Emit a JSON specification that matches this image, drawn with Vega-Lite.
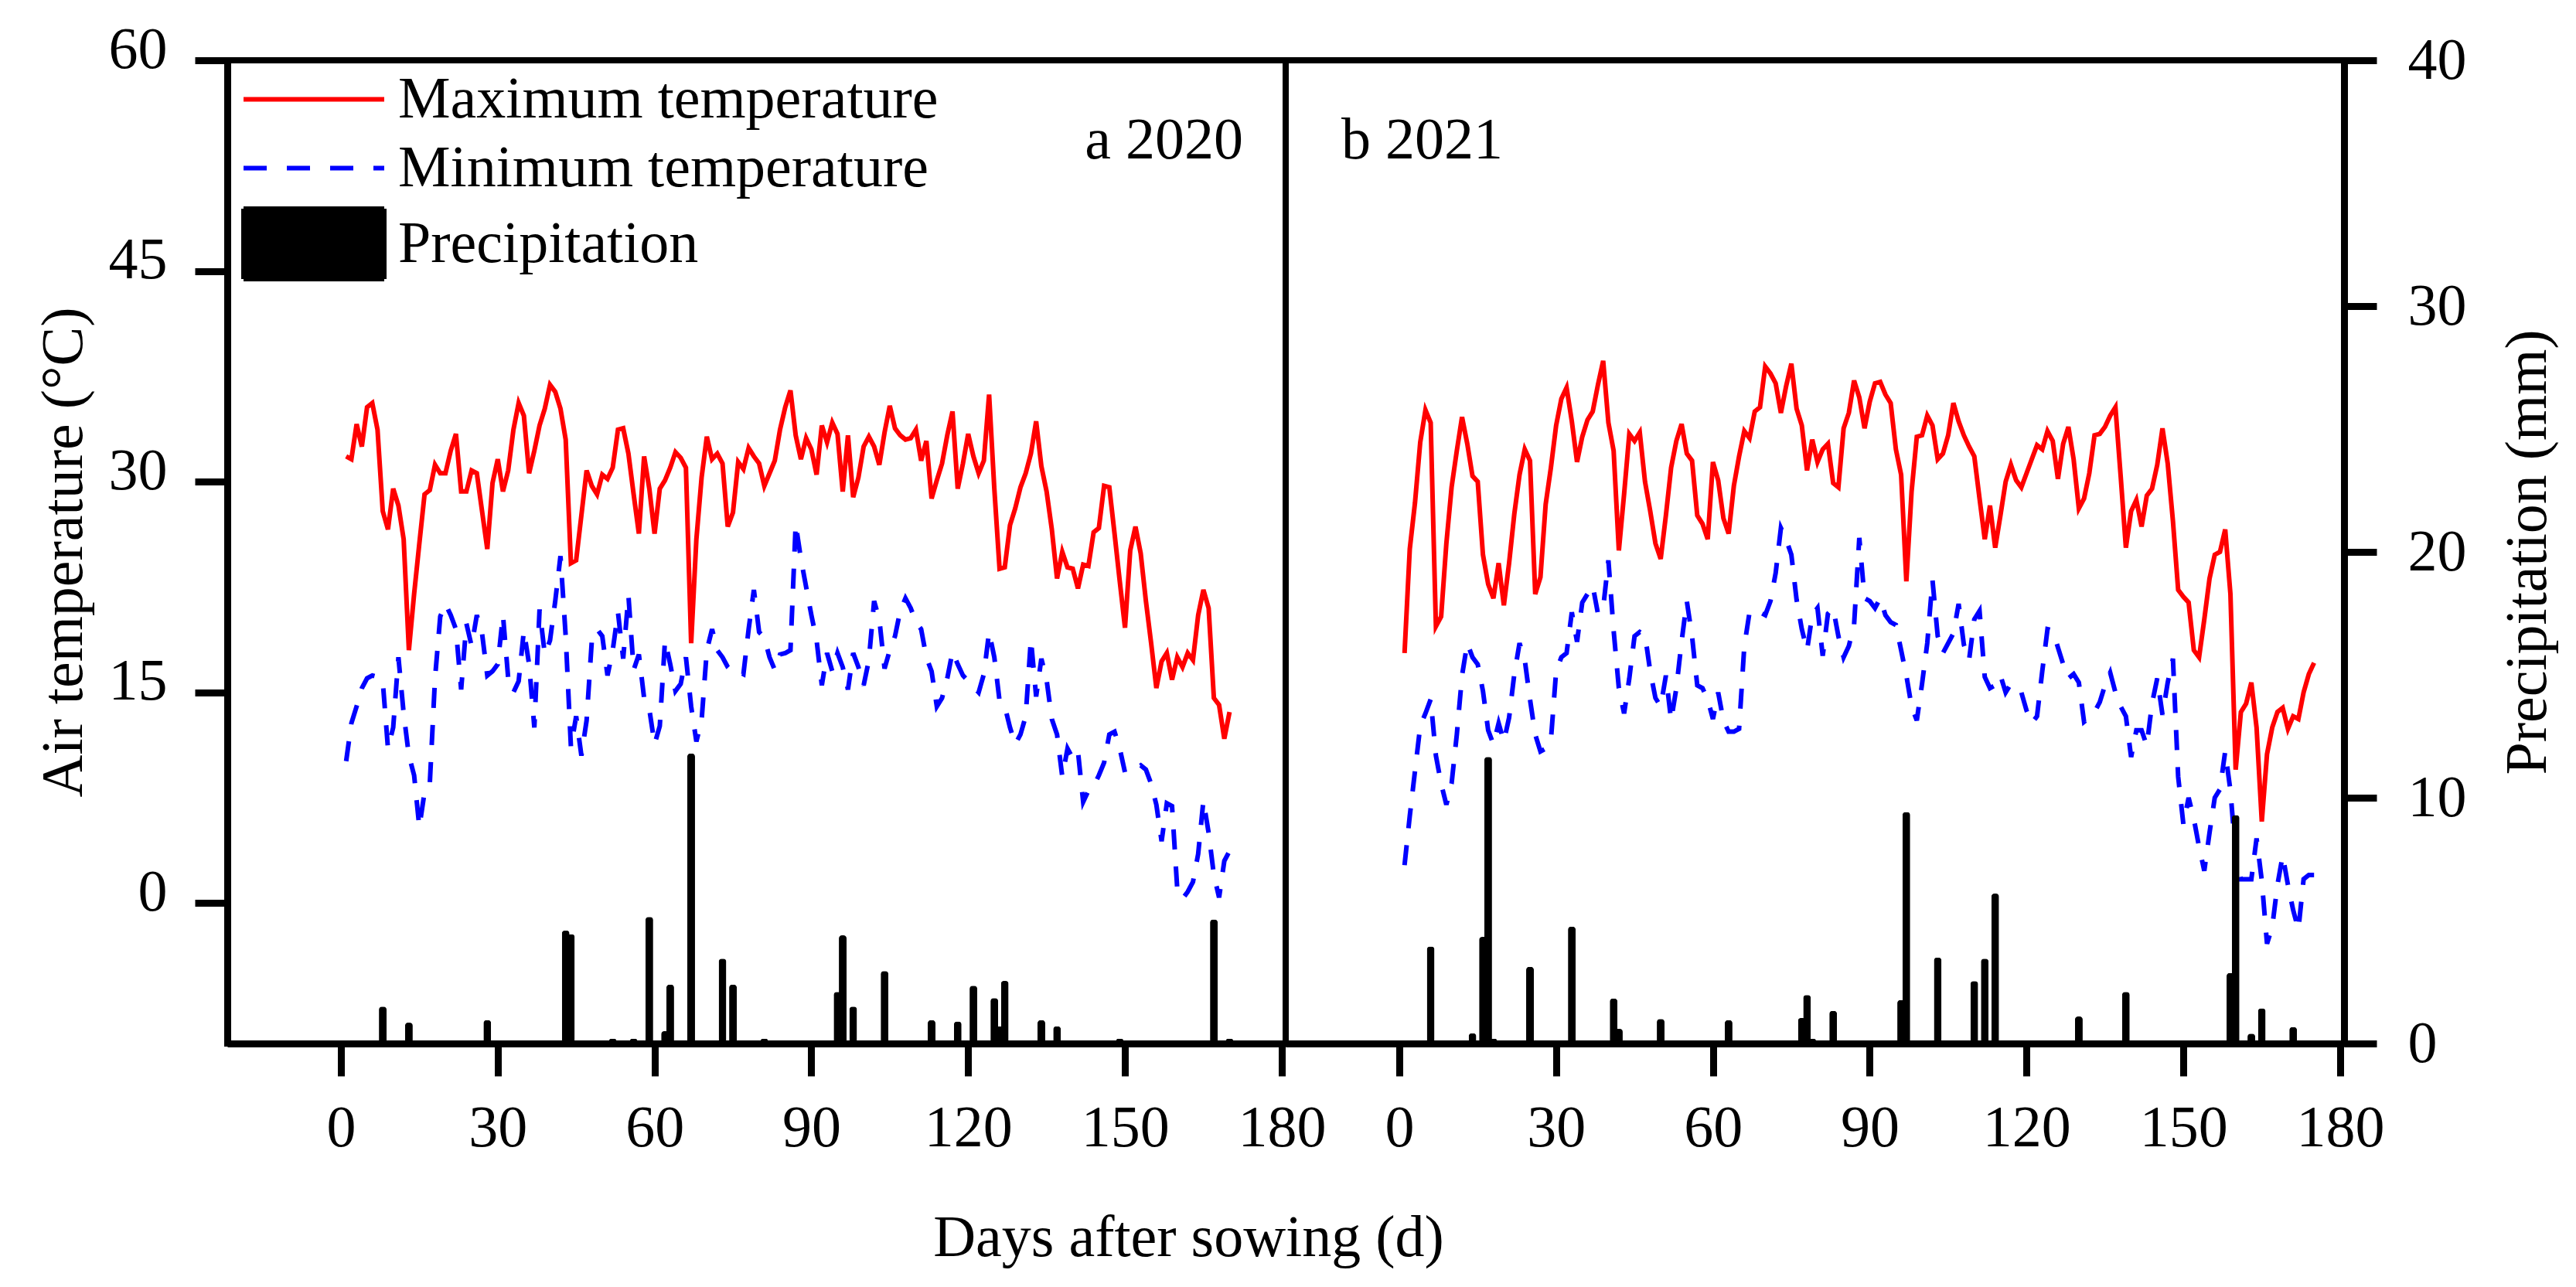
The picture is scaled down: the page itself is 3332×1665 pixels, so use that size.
{
  "$schema": "https://vega.github.io/schema/vega-lite/v6.json",
  "background": "white",
  "padding": {"left": 40, "top": 22, "right": 10, "bottom": 0},
  "spacing": 0,
  "bounds": "flush",
  "config": {
    "font": "Liberation Serif",
    "view": {"stroke": "black", "strokeWidth": 8},
    "axis": {
      "domainColor": "black", "domainWidth": 9, "tickColor": "black", "tickWidth": 9, "tickSize": 42,
      "labelFont": "Liberation Serif", "labelFontSize": 76, "labelColor": "black",
      "titleFont": "Liberation Serif", "titleFontSize": 76, "titleFontWeight": "normal", "titleColor": "black",
      "grid": false, "labelFlush": false, "labelOverlap": false
    },
    "text": {"font": "Liberation Serif", "fontSize": 76, "color": "black"}
  },
  "datasets": {
    "t2020": [
      {"day":1,"tmax":31.8,"tmin":10.1},{"day":2,"tmax":31.6,"tmin":12.8},{"day":3,"tmax":34.1,"tmin":14.0},{"day":4,"tmax":32.5,"tmin":15.3},{"day":5,"tmax":35.3,"tmin":16.0},
      {"day":6,"tmax":35.6,"tmin":16.2},{"day":7,"tmax":33.7,"tmin":16.1},{"day":8,"tmax":27.9,"tmin":15.8},{"day":9,"tmax":26.6,"tmin":11.0},{"day":10,"tmax":29.5,"tmin":12.5},
      {"day":11,"tmax":28.3,"tmin":17.5},{"day":12,"tmax":25.9,"tmin":13.5},{"day":13,"tmax":18.0,"tmin":10.5},{"day":14,"tmax":22.0,"tmin":9.1},{"day":15,"tmax":25.6,"tmin":5.4},
      {"day":16,"tmax":29.1,"tmin":7.9},{"day":17,"tmax":29.4,"tmin":8.5},{"day":18,"tmax":31.2,"tmin":16.0},{"day":19,"tmax":30.6,"tmin":20.4},{"day":20,"tmax":30.6,"tmin":21.3},
      {"day":21,"tmax":32.2,"tmin":20.5},{"day":22,"tmax":33.4,"tmin":19.5},{"day":23,"tmax":29.3,"tmin":15.2},{"day":24,"tmax":29.3,"tmin":19.9},{"day":25,"tmax":30.8,"tmin":18.3},
      {"day":26,"tmax":30.6,"tmin":20.5},{"day":27,"tmax":27.9,"tmin":19.2},{"day":28,"tmax":25.2,"tmin":16.2},{"day":29,"tmax":29.9,"tmin":16.5},{"day":30,"tmax":31.6,"tmin":17.0},
      {"day":31,"tmax":29.3,"tmin":20.5},{"day":32,"tmax":30.8,"tmin":16.0},{"day":33,"tmax":33.7,"tmin":15.0},{"day":34,"tmax":35.6,"tmin":15.8},{"day":35,"tmax":34.7,"tmin":19.4},
      {"day":36,"tmax":30.6,"tmin":17.0},{"day":37,"tmax":32.2,"tmin":12.5},{"day":38,"tmax":34.0,"tmin":20.9},{"day":39,"tmax":35.2,"tmin":17.7},{"day":40,"tmax":36.9,"tmin":18.7},
      {"day":41,"tmax":36.4,"tmin":21.5},{"day":42,"tmax":35.2,"tmin":24.7},{"day":43,"tmax":33.0,"tmin":19.0},{"day":44,"tmax":24.2,"tmin":11.1},{"day":45,"tmax":24.4,"tmin":13.3},
      {"day":46,"tmax":27.6,"tmin":10.5},{"day":47,"tmax":30.8,"tmin":13.0},{"day":48,"tmax":29.7,"tmin":18.7},{"day":49,"tmax":29.1,"tmin":19.5},{"day":50,"tmax":30.5,"tmin":19.0},
      {"day":51,"tmax":30.2,"tmin":16.2},{"day":52,"tmax":31.0,"tmin":18.0},{"day":53,"tmax":33.7,"tmin":20.7},{"day":54,"tmax":33.8,"tmin":17.4},{"day":55,"tmax":32.0,"tmin":21.9},
      {"day":56,"tmax":29.1,"tmin":16.6},{"day":57,"tmax":26.3,"tmin":17.7},{"day":58,"tmax":31.8,"tmin":14.6},{"day":59,"tmax":29.5,"tmin":13.8},{"day":60,"tmax":26.3,"tmin":11.3},
      {"day":61,"tmax":29.5,"tmin":12.6},{"day":62,"tmax":30.1,"tmin":18.7},{"day":63,"tmax":31.0,"tmin":17.0},{"day":64,"tmax":32.1,"tmin":15.1},{"day":65,"tmax":31.7,"tmin":15.6},
      {"day":66,"tmax":31.0,"tmin":17.5},{"day":67,"tmax":18.5,"tmin":14.0},{"day":68,"tmax":25.9,"tmin":11.5},{"day":69,"tmax":30.3,"tmin":13.0},{"day":70,"tmax":33.2,"tmin":18.0},
      {"day":71,"tmax":31.6,"tmin":19.5},{"day":72,"tmax":32.0,"tmin":18.0},{"day":73,"tmax":31.3,"tmin":17.5},{"day":74,"tmax":26.8,"tmin":16.8},{"day":75,"tmax":27.8,"tmin":16.4},
      {"day":76,"tmax":31.4,"tmin":16.5},{"day":77,"tmax":30.9,"tmin":16.3},{"day":78,"tmax":32.4,"tmin":19.5},{"day":79,"tmax":31.8,"tmin":22.3},{"day":80,"tmax":31.3,"tmin":19.3},
      {"day":81,"tmax":29.7,"tmin":18.9},{"day":82,"tmax":30.6,"tmin":17.5},{"day":83,"tmax":31.5,"tmin":16.6},{"day":84,"tmax":33.7,"tmin":17.7},{"day":85,"tmax":35.3,"tmin":17.8},
      {"day":86,"tmax":36.5,"tmin":18.0},{"day":87,"tmax":33.3,"tmin":27.0},{"day":88,"tmax":31.6,"tmin":24.5},{"day":89,"tmax":33.1,"tmin":22.5},{"day":90,"tmax":32.3,"tmin":20.5},
      {"day":91,"tmax":30.5,"tmin":18.7},{"day":92,"tmax":34.0,"tmin":15.5},{"day":93,"tmax":32.8,"tmin":17.8},{"day":94,"tmax":34.2,"tmin":16.5},{"day":95,"tmax":33.4,"tmin":17.8},
      {"day":96,"tmax":29.3,"tmin":16.8},{"day":97,"tmax":33.3,"tmin":15.2},{"day":98,"tmax":28.9,"tmin":17.8},{"day":99,"tmax":30.3,"tmin":16.8},{"day":100,"tmax":32.5,"tmin":15.5},
      {"day":101,"tmax":33.2,"tmin":17.3},{"day":102,"tmax":32.5,"tmin":21.5},{"day":103,"tmax":31.2,"tmin":20.2},{"day":104,"tmax":33.5,"tmin":16.7},{"day":105,"tmax":35.4,"tmin":18.0},
      {"day":106,"tmax":33.8,"tmin":19.0},{"day":107,"tmax":33.3,"tmin":20.8},{"day":108,"tmax":33.0,"tmin":21.7},{"day":109,"tmax":33.1,"tmin":21.0},{"day":110,"tmax":33.7,"tmin":20.0},
      {"day":111,"tmax":31.5,"tmin":19.5},{"day":112,"tmax":32.9,"tmin":17.5},{"day":113,"tmax":28.8,"tmin":16.5},{"day":114,"tmax":30.1,"tmin":14.0},{"day":115,"tmax":31.3,"tmin":14.6},
      {"day":116,"tmax":33.3,"tmin":16.0},{"day":117,"tmax":35.0,"tmin":17.9},{"day":118,"tmax":29.5,"tmin":17.0},{"day":119,"tmax":31.3,"tmin":16.2},{"day":120,"tmax":33.4,"tmin":15.8},
      {"day":121,"tmax":31.8,"tmin":15.4},{"day":122,"tmax":30.6,"tmin":15.0},{"day":123,"tmax":31.5,"tmin":16.3},{"day":124,"tmax":36.2,"tmin":19.3},{"day":125,"tmax":29.5,"tmin":17.5},
      {"day":126,"tmax":23.8,"tmin":14.4},{"day":127,"tmax":23.9,"tmin":14.0},{"day":128,"tmax":26.9,"tmin":12.5},{"day":129,"tmax":28.1,"tmin":11.3},{"day":130,"tmax":29.6,"tmin":12.0},
      {"day":131,"tmax":30.6,"tmin":13.3},{"day":132,"tmax":32.0,"tmin":18.8},{"day":133,"tmax":34.3,"tmin":14.7},{"day":134,"tmax":31.1,"tmin":17.4},{"day":135,"tmax":29.3,"tmin":15.9},
      {"day":136,"tmax":26.6,"tmin":13.1},{"day":137,"tmax":23.1,"tmin":12.0},{"day":138,"tmax":25.0,"tmin":9.0},{"day":139,"tmax":23.9,"tmin":11.0},{"day":140,"tmax":23.8,"tmin":10.3},
      {"day":141,"tmax":22.4,"tmin":10.8},{"day":142,"tmax":24.1,"tmin":7.2},{"day":143,"tmax":24.0,"tmin":8.0},{"day":144,"tmax":26.4,"tmin":8.3},{"day":145,"tmax":26.7,"tmin":9.1},
      {"day":146,"tmax":29.7,"tmin":10.0},{"day":147,"tmax":29.6,"tmin":12.0},{"day":148,"tmax":26.3,"tmin":12.2},{"day":149,"tmax":22.9,"tmin":11.0},{"day":150,"tmax":19.6,"tmin":9.3},
      {"day":151,"tmax":25.1,"tmin":9.5},{"day":152,"tmax":26.8,"tmin":9.6},{"day":153,"tmax":24.9,"tmin":9.8},{"day":154,"tmax":21.5,"tmin":9.5},{"day":155,"tmax":18.5,"tmin":8.5},
      {"day":156,"tmax":15.3,"tmin":7.0},{"day":157,"tmax":17.2,"tmin":4.4},{"day":158,"tmax":17.8,"tmin":7.1},{"day":159,"tmax":15.9,"tmin":6.9},{"day":160,"tmax":17.5,"tmin":1.0},
      {"day":161,"tmax":16.8,"tmin":0.3},{"day":162,"tmax":17.8,"tmin":0.8},{"day":163,"tmax":17.3,"tmin":1.5},{"day":164,"tmax":20.5,"tmin":3.5},{"day":165,"tmax":22.3,"tmin":7.3},
      {"day":166,"tmax":21.0,"tmin":5.0},{"day":167,"tmax":14.6,"tmin":2.0},{"day":168,"tmax":14.1,"tmin":0.4},{"day":169,"tmax":11.7,"tmin":3.0},{"day":170,"tmax":13.6,"tmin":3.7}
    ],
    "p2020": [
      {"day":8,"prec":1.5},{"day":13,"prec":0.85},{"day":28,"prec":0.95},{"day":43,"prec":4.6},{"day":44,"prec":4.45},
      {"day":52,"prec":0.2},{"day":56,"prec":0.2},{"day":59,"prec":5.15},{"day":62,"prec":0.5},{"day":63,"prec":2.4},
      {"day":65,"prec":0.1},{"day":67,"prec":11.8},{"day":73,"prec":3.45},{"day":75,"prec":2.4},{"day":81,"prec":0.2},
      {"day":95,"prec":2.1},{"day":96,"prec":4.4},{"day":98,"prec":1.5},{"day":104,"prec":2.95},{"day":113,"prec":0.95},
      {"day":118,"prec":0.9},{"day":121,"prec":2.35},{"day":125,"prec":1.85},{"day":126,"prec":0.7},{"day":127,"prec":2.55},
      {"day":134,"prec":0.95},{"day":137,"prec":0.7},{"day":149,"prec":0.2},{"day":167,"prec":5.05},{"day":170,"prec":0.2}
    ],
    "t2021": [
      {"day":1,"tmax":17.8,"tmin":2.7},{"day":2,"tmax":25.2,"tmin":6.2},{"day":3,"tmax":28.5,"tmin":9.4},{"day":4,"tmax":32.8,"tmin":12.6},{"day":5,"tmax":35.1,"tmin":13.5},
      {"day":6,"tmax":34.2,"tmin":14.5},{"day":7,"tmax":19.7,"tmin":10.5},{"day":8,"tmax":20.4,"tmin":8.5},{"day":9,"tmax":25.6,"tmin":7.0},{"day":10,"tmax":29.6,"tmin":8.5},
      {"day":11,"tmax":32.2,"tmin":12.0},{"day":12,"tmax":34.6,"tmin":16.2},{"day":13,"tmax":32.7,"tmin":18.5},{"day":14,"tmax":30.4,"tmin":17.5},{"day":15,"tmax":30.0,"tmin":17.0},
      {"day":16,"tmax":24.8,"tmin":15.1},{"day":17,"tmax":22.7,"tmin":12.3},{"day":18,"tmax":21.7,"tmin":11.3},{"day":19,"tmax":24.2,"tmin":12.8},{"day":20,"tmax":21.2,"tmin":11.5},
      {"day":21,"tmax":24.2,"tmin":13.2},{"day":22,"tmax":27.7,"tmin":16.3},{"day":23,"tmax":30.5,"tmin":18.5},{"day":24,"tmax":32.3,"tmin":17.3},{"day":25,"tmax":31.5,"tmin":14.5},
      {"day":26,"tmax":22.0,"tmin":12.0},{"day":27,"tmax":23.2,"tmin":10.8},{"day":28,"tmax":28.4,"tmin":11.0},{"day":29,"tmax":31.0,"tmin":11.6},{"day":30,"tmax":34.0,"tmin":16.5},
      {"day":31,"tmax":35.9,"tmin":17.5},{"day":32,"tmax":36.7,"tmin":17.8},{"day":33,"tmax":34.3,"tmin":20.7},{"day":34,"tmax":31.4,"tmin":18.6},{"day":35,"tmax":33.2,"tmin":21.4},
      {"day":36,"tmax":34.4,"tmin":22.0},{"day":37,"tmax":35.0,"tmin":22.6},{"day":38,"tmax":36.9,"tmin":20.6},{"day":39,"tmax":38.6,"tmin":21.0},{"day":40,"tmax":34.2,"tmin":24.4},
      {"day":41,"tmax":32.2,"tmin":19.4},{"day":42,"tmax":25.1,"tmin":15.3},{"day":43,"tmax":29.1,"tmin":13.5},{"day":44,"tmax":33.4,"tmin":16.0},{"day":45,"tmax":32.9,"tmin":19.0},
      {"day":46,"tmax":33.5,"tmin":19.3},{"day":47,"tmax":30.0,"tmin":19.1},{"day":48,"tmax":27.9,"tmin":16.5},{"day":49,"tmax":25.6,"tmin":14.6},{"day":50,"tmax":24.5,"tmin":14.0},
      {"day":51,"tmax":27.6,"tmin":16.2},{"day":52,"tmax":31.0,"tmin":13.0},{"day":53,"tmax":32.9,"tmin":15.3},{"day":54,"tmax":34.1,"tmin":18.6},{"day":55,"tmax":32.0,"tmin":21.5},
      {"day":56,"tmax":31.5,"tmin":19.0},{"day":57,"tmax":27.6,"tmin":15.5},{"day":58,"tmax":27.0,"tmin":15.3},{"day":59,"tmax":25.9,"tmin":14.5},{"day":60,"tmax":31.4,"tmin":13.1},
      {"day":61,"tmax":30.1,"tmin":15.0},{"day":62,"tmax":27.4,"tmin":13.0},{"day":63,"tmax":26.3,"tmin":12.2},{"day":64,"tmax":29.7,"tmin":12.2},{"day":65,"tmax":31.8,"tmin":12.4},
      {"day":66,"tmax":33.6,"tmin":18.3},{"day":67,"tmax":33.1,"tmin":20.7},{"day":68,"tmax":35.0,"tmin":20.9},{"day":69,"tmax":35.3,"tmin":20.7},{"day":70,"tmax":38.2,"tmin":20.5},
      {"day":71,"tmax":37.7,"tmin":21.5},{"day":72,"tmax":37.0,"tmin":23.5},{"day":73,"tmax":34.9,"tmin":26.7},{"day":74,"tmax":36.8,"tmin":25.9},{"day":75,"tmax":38.4,"tmin":24.8},
      {"day":76,"tmax":35.2,"tmin":21.6},{"day":77,"tmax":34.0,"tmin":19.5},{"day":78,"tmax":30.8,"tmin":18.0},{"day":79,"tmax":33.0,"tmin":20.5},{"day":80,"tmax":31.4,"tmin":21.0},
      {"day":81,"tmax":32.3,"tmin":17.6},{"day":82,"tmax":32.7,"tmin":20.6},{"day":83,"tmax":29.9,"tmin":21.0},{"day":84,"tmax":29.6,"tmin":19.0},{"day":85,"tmax":33.8,"tmin":17.5},
      {"day":86,"tmax":34.9,"tmin":18.3},{"day":87,"tmax":37.2,"tmin":19.8},{"day":88,"tmax":36.0,"tmin":26.0},{"day":89,"tmax":33.8,"tmin":21.7},{"day":90,"tmax":35.7,"tmin":21.5},
      {"day":91,"tmax":37.0,"tmin":21.0},{"day":92,"tmax":37.1,"tmin":21.7},{"day":93,"tmax":36.2,"tmin":20.5},{"day":94,"tmax":35.6,"tmin":20.0},{"day":95,"tmax":32.3,"tmin":19.8},
      {"day":96,"tmax":30.5,"tmin":18.0},{"day":97,"tmax":22.9,"tmin":16.2},{"day":98,"tmax":29.3,"tmin":14.0},{"day":99,"tmax":33.2,"tmin":13.0},{"day":100,"tmax":33.3,"tmin":15.6},
      {"day":101,"tmax":34.7,"tmin":18.5},{"day":102,"tmax":34.0,"tmin":23.0},{"day":103,"tmax":31.6,"tmin":19.0},{"day":104,"tmax":32.0,"tmin":17.8},{"day":105,"tmax":33.3,"tmin":18.5},
      {"day":106,"tmax":35.6,"tmin":19.2},{"day":107,"tmax":34.3,"tmin":21.3},{"day":108,"tmax":33.3,"tmin":18.4},{"day":109,"tmax":32.5,"tmin":17.3},{"day":110,"tmax":31.8,"tmin":20.2},
      {"day":111,"tmax":28.8,"tmin":20.8},{"day":112,"tmax":25.9,"tmin":16.1},{"day":113,"tmax":28.3,"tmin":15.3},{"day":114,"tmax":25.3,"tmin":15.5},{"day":115,"tmax":27.6,"tmin":16.2},
      {"day":116,"tmax":30.0,"tmin":15.0},{"day":117,"tmax":31.2,"tmin":15.6},{"day":118,"tmax":30.1,"tmin":15.3},{"day":119,"tmax":29.6,"tmin":15.0},{"day":120,"tmax":30.6,"tmin":13.7},
      {"day":121,"tmax":31.6,"tmin":12.8},{"day":122,"tmax":32.6,"tmin":13.3},{"day":123,"tmax":32.3,"tmin":16.5},{"day":124,"tmax":33.6,"tmin":19.5},{"day":125,"tmax":32.9,"tmin":19.4},
      {"day":126,"tmax":30.2,"tmin":18.2},{"day":127,"tmax":32.7,"tmin":17.0},{"day":128,"tmax":33.9,"tmin":16.0},{"day":129,"tmax":31.6,"tmin":16.3},{"day":130,"tmax":28.1,"tmin":15.7},
      {"day":131,"tmax":28.8,"tmin":12.9},{"day":132,"tmax":30.6,"tmin":13.2},{"day":133,"tmax":33.3,"tmin":13.6},{"day":134,"tmax":33.4,"tmin":14.3},{"day":135,"tmax":33.9,"tmin":15.5},
      {"day":136,"tmax":34.7,"tmin":16.4},{"day":137,"tmax":35.3,"tmin":15.0},{"day":138,"tmax":30.4,"tmin":14.0},{"day":139,"tmax":25.3,"tmin":13.3},{"day":140,"tmax":27.9,"tmin":10.4},
      {"day":141,"tmax":28.7,"tmin":12.3},{"day":142,"tmax":26.8,"tmin":12.3},{"day":143,"tmax":29.0,"tmin":11.2},{"day":144,"tmax":29.5,"tmin":14.2},{"day":145,"tmax":31.2,"tmin":16.0},
      {"day":146,"tmax":33.8,"tmin":13.4},{"day":147,"tmax":31.3,"tmin":15.7},{"day":148,"tmax":27.2,"tmin":17.4},{"day":149,"tmax":22.3,"tmin":9.0},{"day":150,"tmax":21.8,"tmin":5.6},
      {"day":151,"tmax":21.4,"tmin":7.5},{"day":152,"tmax":18.0,"tmin":6.0},{"day":153,"tmax":17.5,"tmin":4.0},{"day":154,"tmax":20.2,"tmin":2.3},{"day":155,"tmax":23.1,"tmin":5.0},
      {"day":156,"tmax":24.8,"tmin":7.5},{"day":157,"tmax":25.0,"tmin":8.1},{"day":158,"tmax":26.6,"tmin":10.8},{"day":159,"tmax":22.0,"tmin":8.0},{"day":160,"tmax":9.5,"tmin":3.4},
      {"day":161,"tmax":13.6,"tmin":1.7},{"day":162,"tmax":14.2,"tmin":1.7},{"day":163,"tmax":15.7,"tmin":1.7},{"day":164,"tmax":12.5,"tmin":4.6},{"day":165,"tmax":5.8,"tmin":1.6},
      {"day":166,"tmax":10.6,"tmin":-2.9},{"day":167,"tmax":12.5,"tmin":-1.7},{"day":168,"tmax":13.6,"tmin":1.3},{"day":169,"tmax":13.9,"tmin":3.4},{"day":170,"tmax":12.4,"tmin":1.3},
      {"day":171,"tmax":13.3,"tmin":-0.5},{"day":172,"tmax":13.1,"tmin":-1.9},{"day":173,"tmax":15.0,"tmin":1.7},{"day":174,"tmax":16.3,"tmin":2.0},{"day":175,"tmax":17.1,"tmin":2.0}
    ],
    "p2021": [
      {"day":6,"prec":3.95},{"day":14,"prec":0.42},{"day":16,"prec":4.34},{"day":17,"prec":11.66},{"day":18,"prec":0.2},
      {"day":22,"prec":0.1},{"day":25,"prec":3.12},{"day":33,"prec":4.76},{"day":34,"prec":0.1},{"day":41,"prec":1.83},
      {"day":42,"prec":0.6},{"day":50,"prec":1.0},{"day":63,"prec":0.95},{"day":77,"prec":1.04},{"day":78,"prec":1.97},
      {"day":79,"prec":0.2},{"day":83,"prec":1.33},{"day":96,"prec":1.77},{"day":97,"prec":9.42},{"day":103,"prec":3.5},
      {"day":107,"prec":0.1},{"day":110,"prec":2.54},{"day":112,"prec":3.45},{"day":114,"prec":6.1},{"day":130,"prec":1.1},
      {"day":139,"prec":2.1},{"day":159,"prec":2.87},{"day":160,"prec":9.29},{"day":163,"prec":0.4},{"day":165,"prec":1.43},
      {"day":171,"prec":0.67}
    ]
  },
  "hconcat": [
    {
      "width": 1369,
      "height": 1272,
      "resolve": {"scale": {"y": "independent"}},
      "layer": [
        {
          "data": {"name": "t2020"},
          "mark": {"type": "line", "strokeWidth": 6},
          "encoding": {
            "x": {
              "field": "day", "type": "quantitative",
              "scale": {"domain": [-21, 180], "nice": false, "zero": false},
              "axis": {
                "values": [0, 30, 60, 90, 120, 150, 180], "labelPadding": 30,
                "title": "Days after sowing (d)", "titleX": 1243, "titleY": 274,
                "titleAlign": "center", "titleBaseline": "alphabetic"
              }
            },
            "y": {
              "field": "tmax", "type": "quantitative",
              "scale": {"domain": [-10, 60], "nice": false, "zero": false},
              "axis": {
                "values": [0, 15, 30, 45, 60], "labelPadding": 36, "labelOffset": -14,
                "title": "Air temperature (°C)", "titleX": -189, "titleY": 636, "titleAngle": 270,
                "titleAlign": "center", "titleBaseline": "alphabetic"
              }
            },
            "color": {
              "datum": "Maximum temperature", "type": "nominal",
              "scale": {
                "domain": ["Maximum temperature", "Minimum temperature", "Precipitation"],
                "range": ["#ff0000", "#0000ff", "#000000"]
              },
              "legend": {
                "title": null, "orient": "none", "legendX": 18, "legendY": 2, "padding": 0,
                "labelFont": "Liberation Serif", "labelFontSize": 76, "labelColor": "black",
                "labelLimit": 2000, "labelOffset": 106, "rowPadding": 2,
                "symbolSize": 8281, "symbolStrokeWidth": 6,
                "encode": {
                  "symbols": {
                    "update": {
                      "shape": {"signal": "datum.value === 'Precipitation' ? 'M-1,-1H3V1H-1Z' : 'M-1,0H3'"},
                      "fill": {"signal": "datum.value === 'Precipitation' ? '#000000' : 'transparent'"},
                      "stroke": {"signal": "datum.value === 'Maximum temperature' ? '#ff0000' : (datum.value === 'Minimum temperature' ? '#0000ff' : '#000000')"},
                      "strokeDash": {"signal": "datum.value === 'Minimum temperature' ? [30, 26] : [1, 0]"},
                      "strokeWidth": {"value": 6},
                      "opacity": {"value": 1}
                    }
                  }
                }
              }
            }
          }
        },
        {
          "data": {"name": "t2020"},
          "mark": {"type": "line", "strokeWidth": 6, "strokeDash": [26, 22]},
          "encoding": {
            "x": {"field": "day", "type": "quantitative"},
            "y": {"field": "tmin", "type": "quantitative", "scale": {"domain": [-10, 60], "nice": false, "zero": false}, "axis": null},
            "color": {"datum": "Minimum temperature", "type": "nominal"}
          }
        },
        {
          "data": {"name": "p2020"},
          "mark": {"type": "bar", "size": 10, "cornerRadiusTopLeft": 4, "cornerRadiusTopRight": 4},
          "encoding": {
            "x": {"field": "day", "type": "quantitative"},
            "y": {"field": "prec", "type": "quantitative", "scale": {"domain": [0, 40], "nice": false}, "axis": null},
            "color": {"datum": "Precipitation", "type": "nominal"}
          }
        },
        {
          "data": {"values": [{"label": "a 2020"}]},
          "mark": {"type": "text", "align": "right", "baseline": "alphabetic"},
          "encoding": {
            "x": {"datum": 172.6, "type": "quantitative"},
            "y": {"datum": 53, "type": "quantitative", "scale": {"domain": [-10, 60], "nice": false, "zero": false}, "axis": null},
            "text": {"field": "label"}
          }
        }
      ]
    },
    {
      "width": 1369,
      "height": 1272,
      "resolve": {"scale": {"y": "independent"}},
      "layer": [
        {
          "data": {"name": "t2021"},
          "mark": {"type": "line", "strokeWidth": 6, "color": "#ff0000"},
          "encoding": {
            "x": {
              "field": "day", "type": "quantitative",
              "scale": {"domain": [-21, 180], "nice": false, "zero": false},
              "axis": {"values": [0, 30, 60, 90, 120, 150, 180], "labelPadding": 30, "title": null}
            },
            "y": {"field": "tmax", "type": "quantitative", "scale": {"domain": [-10, 60], "nice": false, "zero": false}, "axis": null}
          }
        },
        {
          "data": {"name": "t2021"},
          "mark": {"type": "line", "strokeWidth": 6, "strokeDash": [26, 22], "color": "#0000ff"},
          "encoding": {
            "x": {"field": "day", "type": "quantitative"},
            "y": {"field": "tmin", "type": "quantitative", "scale": {"domain": [-10, 60], "nice": false, "zero": false}, "axis": null}
          }
        },
        {
          "data": {"name": "p2021"},
          "mark": {"type": "bar", "size": 10, "color": "#000000", "cornerRadiusTopLeft": 4, "cornerRadiusTopRight": 4},
          "encoding": {
            "x": {"field": "day", "type": "quantitative"},
            "y": {
              "field": "prec", "type": "quantitative", "scale": {"domain": [0, 40], "nice": false},
              "axis": {
                "orient": "right", "values": [0, 10, 20, 30, 40], "labelPadding": 40,
                "title": "Precipitation (mm)", "titleX": 260, "titleY": 636, "titleAngle": 270,
                "titleAlign": "center", "titleBaseline": "alphabetic"
              }
            }
          }
        },
        {
          "data": {"values": [{"label": "b 2021"}]},
          "mark": {"type": "text", "align": "left", "baseline": "alphabetic"},
          "encoding": {
            "x": {"datum": -11.1, "type": "quantitative"},
            "y": {"datum": 53, "type": "quantitative", "scale": {"domain": [-10, 60], "nice": false, "zero": false}, "axis": null},
            "text": {"field": "label"}
          }
        }
      ]
    }
  ]
}
